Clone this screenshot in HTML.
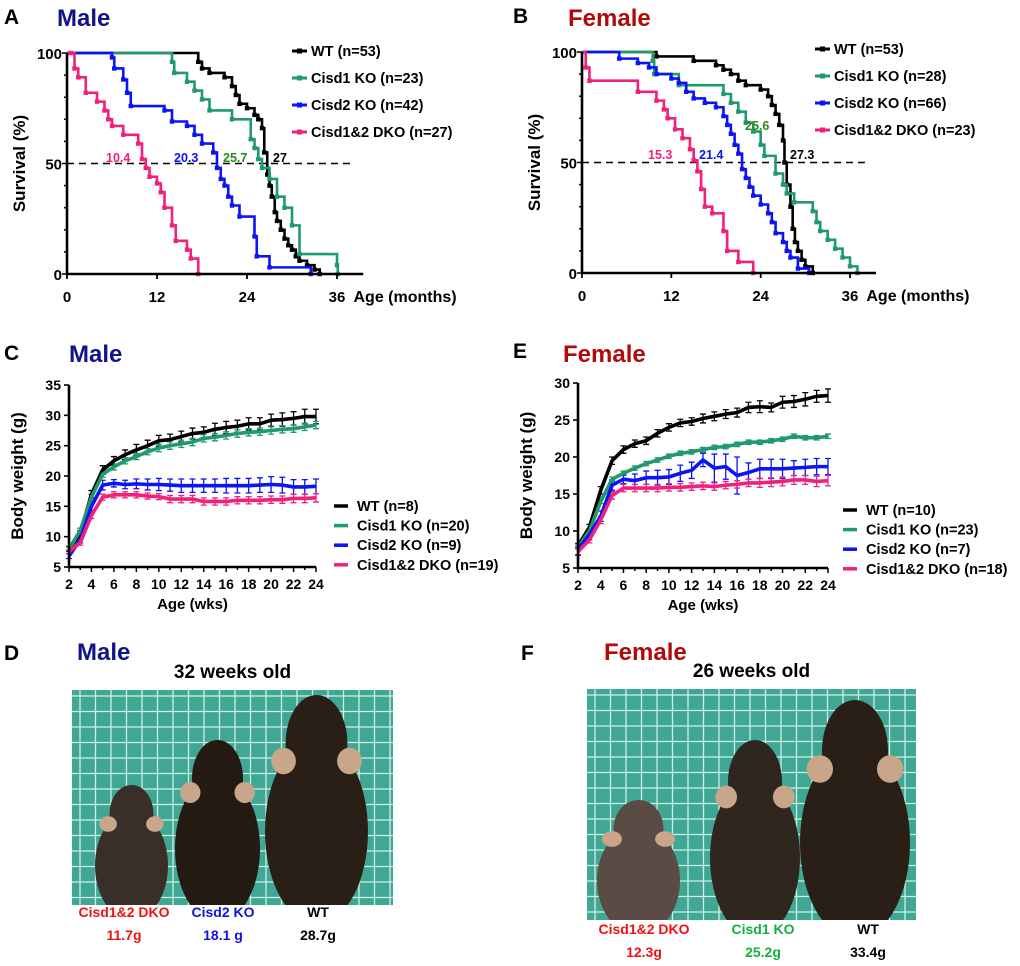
<!DOCTYPE html>
<html><head><meta charset="utf-8">
<style>
html,body{margin:0;padding:0;background:#fff;}
body{width:1020px;height:966px;position:relative;overflow:hidden;font-family:"Liberation Sans",sans-serif;}
svg{position:absolute;left:0;top:0;}
</style></head>
<body>
<svg id="fig" width="1020" height="966" viewBox="0 0 1020 966"></svg>
<script>
// ---- Survival data (months, survival %) ----
const survMaleWT_t=[17.5,18,19,21,22,22.5,23,24,25,25.5,26,26.3,26.7,27,27.3,27.7,28,28.5,29,29.5,30,30.5,31,32,33,33.7];
const survMaleWT_s=[96,93,91,89,85,81,77,75,72,70,66,55,45,40,35,28,24,20,16,13,11,8,6,4,2,0];
const survMaleC1_t=[14,14.3,16,17,18,19,22,24.5,25,25.5,26,27,28,29,30,31,36,36.1];
const survMaleC1_s=[96,91,87,83,79,74,70,61,57,52,48,43,35,30,22,9,4,0];
const survMaleC2_t=[6,6.3,7.5,8,8.5,13,14,16,17,18,19.5,20,20.5,21,21.5,22,23,25,25.3,27,32.5];
const survMaleC2_s=[98,93,88,82,76,74,69,67,63,59,55,48,43,40,35,31,26,17,8,3,0];
const survMaleDKO_t=[0.5,1,1.5,2.5,4,5,5.5,6,7.5,9.5,10,10.5,11,12,12.5,13,14,14.5,16,16.5,17.5];
const survMaleDKO_s=[100,93,89,82,78,74,70,67,63,59,52,48,44,41,37,30,22,15,11,7,0];

const survFemWT_t=[10,15,18,19,20,21,22,24,25,25.5,26,26.5,27,27.2,27.5,28,28.3,28.6,29,29.5,30,31];
const survFemWT_s=[98,96,94,92,90,87,85,83,80,76,72,67,60,50,40,30,20,14,10,6,3,0];
const survFemC1_t=[9.5,9.7,13,19,20,21,22,23,24,24.5,26,27,27.5,28.5,31,31.5,32,33,34,35,36,37];
const survFemC1_s=[96,90,85,81,77,73,68,64,58,53,45,40,36,32,28,23,19,15,11,7,3,0];
const survFemC2_t=[5,7.5,9,10,12,13,14,15,16.5,18,19,19.5,20,20.5,21,21.5,22,22.5,23,24,25,25.5,26,27,27.5,28,29,30.5];
const survFemC2_s=[97,95,93,90,88,86,82,79,77,75,71,67,63,58,54,47,43,39,35,31,27,23,18,14,10,7,2,0];
const survFemDKO_t=[0.5,1,7.5,10,11,11.5,12.5,13.5,14.5,15,15.5,16,16.5,17.5,19,19.5,21,23];
const survFemDKO_s=[93,87,82,78,74,70,65,61,56,51,46,38,30,27,19,10,5,0];

// ---- Body weight data (weeks 2..24) ----
const weeks=[2,3,4,5,6,7,8,9,10,11,12,13,14,15,16,17,18,19,20,21,22,23,24];
const bwMaleWT=[8,10.5,17,21,22.5,23.5,24.3,25,25.8,26,26.5,27,27.2,27.7,28,28.2,28.6,28.6,29.2,29.3,29.5,29.8,29.8];
const bwMaleC1=[8,11,16.5,20.3,21.5,22.5,23.2,24,24.6,25,25.3,25.6,26.2,26.4,26.7,27,27.2,27.3,27.5,27.7,27.8,28.1,28.4];
const bwMaleC2=[6.8,9.5,15,18.5,18.8,18.6,18.7,18.6,18.6,18.5,18.4,18.4,18.4,18.4,18.4,18.4,18.4,18.5,18.6,18.5,18.2,18.2,18.3];
const bwMaleDKO=[7.5,9,13.5,16.5,16.9,16.9,16.9,16.7,16.6,16.2,16.2,16.2,15.8,15.8,15.8,16,16,16,16.1,16.1,16.3,16.3,16.4];
const errMaleWT=[0.4,0.5,0.6,0.7,0.7,0.8,0.9,0.9,0.9,0.9,0.9,0.9,0.9,1,1,1,1,1,1,1.1,1.1,1.2,1.2];
const errMaleC1=[0.3,0.4,0.5,0.5,0.5,0.5,0.5,0.5,0.6,0.6,0.6,0.6,0.6,0.6,0.6,0.6,0.6,0.6,0.6,0.6,0.6,0.6,0.6];
const errMaleC2=[0.4,0.5,0.7,0.8,0.6,0.7,0.8,0.9,1,1,1.1,1.1,1.1,1.1,1.2,1.2,1.2,1.2,1.3,1.3,1.2,1.2,1.2];
const errMaleDKO=[0.3,0.4,0.5,0.5,0.5,0.5,0.5,0.5,0.5,0.6,0.6,0.6,0.6,0.6,0.6,0.6,0.6,0.6,0.6,0.6,0.7,0.7,0.7];

const bwFemWT=[8,10.5,15.5,19.5,21,21.8,22.2,23.2,24,24.6,24.8,25.2,25.5,25.8,26,26.7,26.8,26.7,27.4,27.5,27.8,28.2,28.3];
const bwFemC1=[7.8,10,14,17,17.8,18.5,19.1,19.6,20.1,20.5,20.7,21,21.3,21.4,21.7,22,22,22.2,22.4,22.8,22.6,22.6,22.8];
const bwFemC2=[7.5,9.5,12,16.2,17,16.8,17.2,17.2,17.3,17.8,18.2,19.6,18.5,18.7,17.5,17.9,18.4,18.4,18.4,18.5,18.6,18.7,18.7];
const bwFemDKO=[7.2,8.8,11.5,14.8,15.8,15.8,15.8,15.8,15.9,15.9,16,16.1,16,16.2,16.3,16.5,16.5,16.6,16.7,16.9,16.9,16.7,16.8];
const errFemWT=[0.3,0.4,0.5,0.5,0.5,0.5,0.5,0.5,0.5,0.5,0.5,0.6,0.6,0.6,0.6,0.7,0.8,0.6,0.8,0.8,0.9,0.8,0.9];
const errFemC1=[0.2,0.2,0.3,0.3,0.3,0.3,0.3,0.3,0.3,0.3,0.3,0.3,0.3,0.3,0.3,0.3,0.3,0.3,0.3,0.3,0.3,0.3,0.3];
const errFemC2=[0.8,0.7,0.7,0.7,0.6,0.9,0.9,1,1,1.1,1.1,0.9,1.9,1.7,2.5,1.3,1.3,1.3,1.3,1.0,1.1,1.1,1.1];
const errFemDKO=[0.4,0.4,0.5,0.5,0.5,0.5,0.5,0.5,0.5,0.5,0.5,0.5,0.5,0.5,0.5,0.5,0.6,0.6,0.6,0.6,0.6,0.7,0.7];

const COL={wt:'#000000',c1:'#1f9a6a',c2:'#0a14f5',dko:'#f0207c'};
const NS='http://www.w3.org/2000/svg';
const svg=document.getElementById('fig');
function mk(tag,attrs,parent){const e=document.createElementNS(NS,tag);for(const k in attrs)e.setAttribute(k,attrs[k]);(parent||svg).appendChild(e);return e;}
function txt(x,y,s,size,fill,anchor,weight,parent){const t=mk('text',{x:x,y:y,'font-size':size,fill:fill,'text-anchor':anchor||'start','font-weight':weight||'bold','font-family':'Liberation Sans, sans-serif'},parent);t.textContent=s;return t;}

function survivalPanel(o){
  const g=mk('g',{});
  
  
  const X=t=>o.x0+(o.x1-o.x0)*t/36, Y=s=>o.y0+(o.y1-o.y0)*(100-s)/100;
  const dl=mk('line',{x1:X(0),x2:X(38),y1:Y(50),y2:Y(50),stroke:'#000','stroke-width':1.6,'stroke-dasharray':'7,5'},g);
  
  
  o.series.forEach(se=>{
    let d='M'+X(0)+','+Y(100);
    se.t.forEach((t,i)=>{d+=' H'+X(t)+' V'+Y(se.s[i]);});
    const p=mk('path',{d:d,fill:'none',stroke:se.c,'stroke-width':2.6},g);
    
    
    se.t.forEach((t,i)=>{
      const m=mk('rect',{x:X(t)-2.2,y:Y(se.s[i])-2.2,width:4.4,height:4.4,fill:se.c},g);
      
      
    });
  });
  const ax=mk('path',{d:'M'+o.x0+','+Y(100)+' V'+o.y1+' H'+X(39.5),fill:'none',stroke:'#000','stroke-width':2.6},g);
  
  
  for(let v=0;v<=100;v+=10){mk('line',{x1:o.x0-(v%50?3:5),x2:o.x0,y1:Y(v),y2:Y(v),stroke:'#000','stroke-width':1.5},g);}
  [0,50,100].forEach(v=>txt(o.x0-5,Y(v)+6,String(v),15,'#000','end','bold',g));
  [0,12,24,36].forEach(v=>{mk('line',{x1:X(v),x2:X(v),y1:o.y1,y2:o.y1+5,stroke:'#000','stroke-width':1.8},g);txt(X(v),o.y1+28,String(v),15,'#000','middle','bold',g);});
  const xt=txt(X(38.2),o.y1+28,'Age (months)',16,'#000','start','bold',g);
  
  
  const yt=txt(0,0,'Survival (%)',17,'#000','middle','bold',g);
  yt.setAttribute('transform','translate('+(o.x0-42)+','+((o.y0+o.y1)/2)+') rotate(-90)');
  
  
  o.medians.forEach(m=>txt(m[0],m[1],m[2],12.5,m[3],'start','bold',g));
  o.legend.forEach((l,i)=>{
    const ly=o.ly+i*27;
    const le=mk('g',{},g);
    
    
    mk('line',{x1:o.lx,x2:o.lx+15,y1:ly,y2:ly,stroke:l[1],'stroke-width':3},le);
    mk('rect',{x:o.lx+5,y:ly-2.5,width:5,height:5,fill:l[1]},le);
    txt(o.lx+19,ly+5,l[0],14.5,'#000','start','bold',le);
  });
}

survivalPanel({name:'survival-male-chart',x0:67,x1:337,y0:53,y1:274,
  series:[{k:'wt',c:COL.wt,t:survMaleWT_t,s:survMaleWT_s},{k:'cisd1',c:COL.c1,t:survMaleC1_t,s:survMaleC1_s},{k:'cisd2',c:COL.c2,t:survMaleC2_t,s:survMaleC2_s},{k:'dko',c:COL.dko,t:survMaleDKO_t,s:survMaleDKO_s}],
  medians:[[106,162,'10.4',COL.dko],[174,162,'20.3',COL.c2],[223,162,'25.7','#2a8a1a'],[273,162,'27',COL.wt]],
  lx:292,ly:51,legend:[['WT (n=53)',COL.wt],['Cisd1 KO (n=23)',COL.c1],['Cisd2 KO (n=42)',COL.c2],['Cisd1&2 DKO (n=27)',COL.dko]]});
survivalPanel({name:'survival-female-chart',x0:582,x1:850,y0:52,y1:273,
  series:[{k:'wt',c:COL.wt,t:survFemWT_t,s:survFemWT_s},{k:'cisd1',c:COL.c1,t:survFemC1_t,s:survFemC1_s},{k:'cisd2',c:COL.c2,t:survFemC2_t,s:survFemC2_s},{k:'dko',c:COL.dko,t:survFemDKO_t,s:survFemDKO_s}],
  medians:[[648,159,'15.3',COL.dko],[699,159,'21.4',COL.c2],[745,130,'25.6','#2a8a1a'],[790,159,'27.3',COL.wt]],
  lx:815,ly:49,legend:[['WT (n=53)',COL.wt],['Cisd1 KO (n=28)',COL.c1],['Cisd2 KO (n=66)',COL.c2],['Cisd1&2 DKO (n=23)',COL.dko]]});

function weightPanel(o){
  const g=mk('g',{});
  
  
  const X=w=>o.x0+(o.x1-o.x0)*(w-2)/22, Y=v=>o.y1-(o.y1-o.y0)*(v-5)/(o.ymax-5);
  o.series.forEach(se=>{
    se.v.forEach((v,i)=>{
      const e=se.e[i];
      const eb=mk('path',{d:'M'+X(weeks[i])+','+Y(v-e)+' V'+Y(v+e)+' M'+(X(weeks[i])-3)+','+Y(v+e)+' h6 M'+(X(weeks[i])-3)+','+Y(v-e)+' h6',stroke:se.c,'stroke-width':1.3,fill:'none'},g);
      
      
    });
  });
  o.series.forEach(se=>{
    const pts=se.v.map((v,i)=>X(weeks[i])+','+Y(v)).join(' ');
    const l=mk('polyline',{points:pts,fill:'none',stroke:se.c,'stroke-width':3.6,'stroke-linejoin':'round'},g);
    
    
  });
  const ax=mk('path',{d:'M'+o.x0+','+o.y0+' V'+o.y1+' H'+o.x1,fill:'none',stroke:'#000','stroke-width':2.6},g);
  
  
  for(let v=5;v<=o.ymax;v+=5){mk('line',{x1:o.x0-5,x2:o.x0,y1:Y(v),y2:Y(v),stroke:'#000','stroke-width':1.6},g);txt(o.x0-8,Y(v)+5,String(v),14,'#000','end','bold',g);}
  for(let w=2;w<=24;w++){mk('line',{x1:X(w),x2:X(w),y1:o.y1,y2:o.y1+(w%2?3:5),stroke:'#000','stroke-width':1.5},g);}
  for(let w=2;w<=24;w+=2){txt(X(w),o.y1+22,String(w),14,'#000','middle','bold',g);}
  const xt=txt((o.x0+o.x1)/2,o.y1+42,'Age (wks)',15,'#000','middle','bold',g);
  
  
  const yt=txt(0,0,'Body weight (g)',17,'#000','middle','bold',g);
  yt.setAttribute('transform','translate('+(o.x0-46)+','+((o.y0+o.y1)/2)+') rotate(-90)');
  
  
  o.legend.forEach((l,i)=>{
    const ly=o.ly+i*19.6;
    const le=mk('g',{},g);
    
    
    mk('line',{x1:o.lx,x2:o.lx+14,y1:ly,y2:ly,stroke:l[1],'stroke-width':3.5},le);
    txt(o.lx+23,ly+5,l[0],14.5,'#000','start','bold',le);
  });
}
weightPanel({name:'body-weight-male-chart',x0:69,x1:316,y0:385,y1:567,ymax:35,
  series:[{k:'wt',c:COL.wt,v:bwMaleWT,e:errMaleWT},{k:'cisd1',c:COL.c1,v:bwMaleC1,e:errMaleC1},{k:'cisd2',c:COL.c2,v:bwMaleC2,e:errMaleC2},{k:'dko',c:COL.dko,v:bwMaleDKO,e:errMaleDKO}],
  lx:334,ly:506,legend:[['WT (n=8)',COL.wt],['Cisd1 KO (n=20)',COL.c1],['Cisd2 KO (n=9)',COL.c2],['Cisd1&2 DKO (n=19)',COL.dko]]});
weightPanel({name:'body-weight-female-chart',x0:578,x1:828,y0:383,y1:568,ymax:30,
  series:[{k:'wt',c:COL.wt,v:bwFemWT,e:errFemWT},{k:'cisd1',c:COL.c1,v:bwFemC1,e:errFemC1},{k:'cisd2',c:COL.c2,v:bwFemC2,e:errFemC2},{k:'dko',c:COL.dko,v:bwFemDKO,e:errFemDKO}],
  lx:843,ly:510,legend:[['WT (n=10)',COL.wt],['Cisd1 KO (n=23)',COL.c1],['Cisd2 KO (n=7)',COL.c2],['Cisd1&2 DKO (n=18)',COL.dko]]});

[['A',4,24],['B',513,23],['C',4,360],['E',513,358],['D',4,660],['F',521,660]].forEach(p=>{const t=txt(p[1],p[2],p[0],21,'#000','start','bold');});
[['Male',57,26,'#12128a'],['Female',568,26,'#b00a0a'],['Male',69,362,'#12128a'],['Female',563,362,'#b00a0a'],['Male',77,660,'#12128a'],['Female',604,660,'#b00a0a']].forEach(p=>{const t=txt(p[1],p[2],p[0],24,p[3],'start','bold');});

// photos
const defs=mk('defs',{});
function photo(o){
  const cp=mk('clipPath',{id:'clip-'+o.name},defs);
  mk('rect',{x:o.x,y:o.y,width:o.w,height:o.h},cp);
  const g=mk('g',{'clip-path':'url(#clip-'+o.name+')'});
  
  
  mk('rect',{x:o.x,y:o.y,width:o.w,height:o.h,fill:'#3fa794'},g);
  for(let x=o.x+8;x<o.x+o.w;x+=15.5)mk('line',{x1:x,x2:x,y1:o.y,y2:o.y+o.h,stroke:'#cfeee6','stroke-width':1.3},g);
  for(let y=o.y+6;y<o.y+o.h;y+=15.5)mk('line',{x1:o.x,x2:o.x+o.w,y1:y,y2:y,stroke:'#cfeee6','stroke-width':1.3},g);
  o.mice.forEach(m=>{
    // m: left, top, right, bottom, color
    const cx=(m[0]+m[2])/2, w=m[2]-m[0], h=m[3]-m[1];
    const e=mk('ellipse',{cx:cx,cy:m[1]+h*0.62,rx:w/2,ry:h*0.42,fill:m[4]},g);
    
    
    mk('ellipse',{cx:cx,cy:m[1]+h*0.22,rx:w*0.3,ry:h*0.22,fill:m[4]},g);
    mk('ellipse',{cx:cx-w*0.32,cy:m[1]+h*0.3,rx:w*0.12,ry:h*0.06,fill:'#c9a68a'},g);
    mk('ellipse',{cx:cx+w*0.32,cy:m[1]+h*0.3,rx:w*0.12,ry:h*0.06,fill:'#c9a68a'},g);
  });
  txt(o.x+o.w/2,o.y-12,o.title,19,'#000','middle','bold');
  o.labels.forEach(l=>{txt(l[0],o.ly,l[1],14,l[2],'middle','bold');txt(l[0],o.ly+23,l[3],14,l[2],'middle','bold');});
}
photo({name:'photo-male',x:72,y:690,w:321,h:215,title:'32 weeks old',ly:917,
  mice:[[95,785,168,915,'#3a2f28'],[175,740,260,915,'#231a14'],[265,695,368,915,'#2a1f16']],
  labels:[[124,'Cisd1&2 DKO','#f01010','11.7g'],[223,'Cisd2 KO','#1010e0','18.1 g'],[318,'WT','#000','28.7g']]});
photo({name:'photo-female',x:587,y:689,w:329,h:231,title:'26 weeks old',ly:934,
  mice:[[597,800,680,930,'#5a4c44'],[710,740,800,930,'#2f2620'],[800,700,910,930,'#2a1f16']],
  labels:[[644,'Cisd1&2 DKO','#f01010','12.3g'],[763,'Cisd1 KO','#10b040','25.2g'],[868,'WT','#000','33.4g']]});
</script>
</body></html>
